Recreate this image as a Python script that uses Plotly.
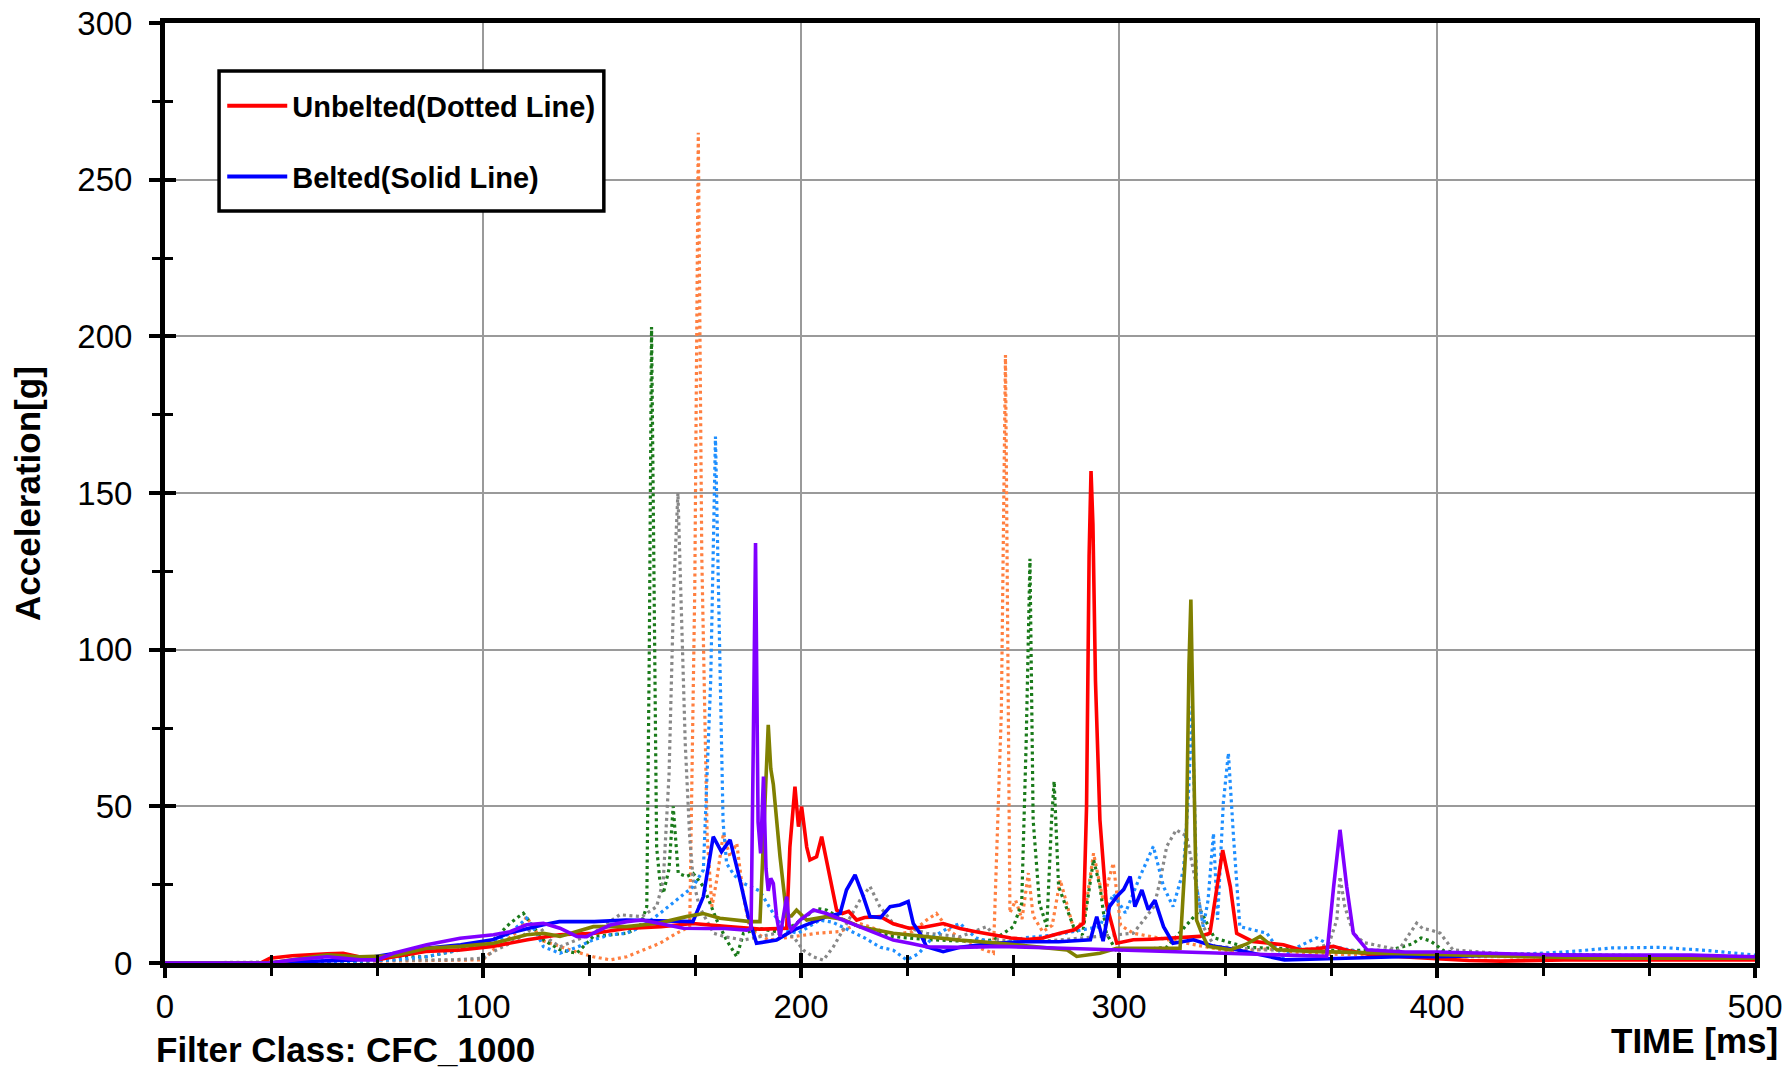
import plotly.graph_objects as go

# ---- acceleration traces (time in ms, acceleration in g) ----
# Belted runs: solid lines
red_t = [0, 30, 33, 40, 51, 56, 61, 66.6, 72, 82, 93, 103, 114, 124, 135, 145, 156, 166, 177, 187,
         195.5, 196.5, 198.1, 199.2, 200.2, 201.8, 202.8, 204.9, 206.5, 208, 209.6, 211.2, 213, 215,
         217.5, 220, 225, 229, 234, 239, 244.7, 250, 255, 260.5, 266, 271, 276, 281.4, 286, 288.8,
         289.8, 290.6, 291.2, 291.8, 292.6, 294, 296, 299.3, 304.5, 310, 315, 320, 325.5, 328.6,
         330.7, 332.6, 335, 337, 342, 351.7, 357, 362, 367.4, 372, 380, 388, 400, 410, 420, 440,
         460, 480, 500]
red_g = [0, 0, 1.5, 2.3, 2.9, 3.1, 2, 1, 2, 3.7, 4.2, 5.3, 7.4, 9, 9.5, 11, 11.6, 12.6, 11.6, 10.8,
         11.1, 37, 56.3, 43.5, 49.9, 37, 32.9, 33.9, 40.3, 32.9, 25.4, 16.9, 15.8, 16.5,
         13.7, 14.5, 14.8, 12.5, 11.1, 11.5, 12.6, 11, 10, 9, 8, 7.5, 8, 9.5, 10.6, 12.7,
         50, 130, 157, 140, 90, 45.7, 19, 6.3, 7.4, 7.6, 7.9, 8.2, 8.5, 9.5,
         24.4, 36, 24.4, 9.5, 6.9, 5.8, 4.2, 4.5, 5.3, 4, 2.5, 2.1, 1.5, 0.8, 0.6, 1,
         1, 1, 1]

blue_t = [0, 30, 60, 72, 82, 93, 103, 108, 114, 119, 124, 135, 145, 156, 166, 169.3, 172.4, 175,
          177.7, 180.8, 183.4, 186, 192.3, 197.6, 202.8, 208, 212.3, 214.3, 217, 219.6, 221.7, 225,
          228, 231.1, 233.7, 235.3, 237.4, 239.5, 244.7, 250, 260.5, 270, 281, 288, 291, 293, 295,
          297, 299.3, 301.5, 303.5, 305, 307.2, 309.2, 311.3, 314, 317, 323.4, 330, 337, 345, 352,
          360, 368, 380, 388, 400, 420, 440, 460, 480, 500]
blue_g = [0, 0, 1, 3.1, 4.7, 5.8, 7.4, 9.5, 11.1, 12.2, 13.2, 13.2, 13.7, 13.5, 13.2, 21.2, 40.3, 35.5,
          39.3, 26.5, 14.8, 6.3, 7.3, 10.5, 12.6, 14.8, 15.8, 23.3, 28.1, 21.2, 14.8, 14.5,
          18, 18.5, 19.6, 12.6, 9.5, 5.2, 3.6, 5, 6.3, 6.8, 6.8, 7.2, 7.4, 14.8, 7,
          18, 21.2, 23.5, 27.6, 18, 23.3, 17, 20, 11.6, 6.3, 7.4, 5.3, 4.2, 2.5, 1,
          1.2, 1.5, 1.8, 2, 2, 2.5, 2.5, 2.2, 2, 1.5]

purple_t = [0, 33, 40.4, 51, 61.3, 66.6, 71.8, 82.3, 92.8, 103.3, 108.5, 113.7, 119, 124.2, 129.5,
            132.6, 134.7, 140, 145.2, 150, 155.6, 163, 170, 176, 182.9, 184.3, 185, 185.7, 186.5,
            187.3, 188.2, 189, 189.7, 190.5, 191.3, 192.3, 193.4, 194.5, 195.5, 196.3, 197,
            199.7, 203.9, 208, 213.3, 218.5, 224, 229, 234.3, 239.5, 250, 262.6, 280, 299, 320,
            340, 357, 365.3, 367.5, 369.5, 371.6, 373.7, 378, 390, 400, 420, 440, 460, 480, 500]
purple_g = [0, 0, 1, 2, 1, 1, 3.1, 5.8, 7.9, 9, 10, 12.2, 12.7, 11.1, 8.5,
            8.4, 9.5, 12.1, 13.2, 13.7, 12.6, 11.1, 11, 11, 10.5, 11, 70, 134, 45,
            35, 59.5, 30, 23, 27, 25.4, 15, 8.4, 15, 21.2, 12, 10.6,
            13.7, 16.9, 15.8, 13.7, 11.6, 9.5, 7.3, 6.3, 5.2, 5, 5.3, 4.8, 4.2, 3.5,
            3, 2.6, 2.1, 24.4, 42.5, 24.4, 9.5, 4.2, 3.5, 3.5, 3, 2.5, 2.5, 2.5, 2]

olive_t = [0, 33, 51, 61, 72, 82.3, 92.8, 103.3, 113.7, 119, 124.2, 134.7, 145.2, 155, 164, 169.3,
           174.5, 179.8, 184, 187.1, 188.3, 189.7, 190.5, 191.3, 193.4, 195.5, 197, 198.6, 201.8,
           208, 213, 218.5, 229, 239.5, 250, 262.6, 273, 283.6, 286.7, 294, 299.3, 310, 319.2,
           321.2, 322, 322.6, 323.3, 324.4, 326, 328, 335, 340, 344.4, 349.6, 360, 380, 400, 420,
           450, 480, 500]
olive_g = [0, 0, 2.6, 2, 2.3, 4.7, 5.3, 6.3, 9, 9.5, 8.5, 11.6, 11.6, 12.7, 14.8, 15.8,
           14.3, 13.7, 13.2, 13.2, 45, 76, 62, 57, 34, 15, 15, 16.9, 13.7,
           14.8, 14, 11.6, 9.5, 8.4, 7.3, 6.3, 5.3, 4.2, 2.1, 3.1, 4.7, 4.7, 4.7,
           40, 95, 116, 80, 13.7, 9.5, 5.3, 4.2, 6, 8.5, 4.2, 3.7, 3.2, 2.5, 2,
           1.5, 1.5, 1.5]

# Unbelted runs: dotted lines
orange_t = [0, 33, 60, 80, 100, 103.3, 108, 111.6, 113.7, 116, 119, 124.2, 129.5, 134.7, 140, 145.2,
            150.4, 155.6, 160.9, 165, 166.6, 167.7, 168.8, 170.5, 172, 173.5, 175.6, 177.7, 179.8,
            181.9, 184, 190, 197.6, 205, 212, 218.5, 229, 235, 239.5, 242.6, 247, 253, 260.5,
            263, 264.3, 265.7, 267.5, 269.5, 271.5, 273, 276, 279, 281.5, 283.6, 286, 289, 292,
            295, 298.2, 300.5, 304.5, 315, 325.5, 336, 346.5, 360, 380, 400, 420, 450, 480, 500]
orange_g = [0, 0, 0.5, 0.8, 1, 4.2, 8, 10.6, 14.8, 11, 7, 5.2, 3.5, 2, 1, 2,
            4.2, 6.3, 9.5, 11.6, 120, 265, 130, 40, 18, 26.5, 41.4, 33.9, 38.2,
            21.2, 10.5, 7.3, 8.4, 9.5, 10, 12.6, 9, 10, 13.7, 15.8, 10, 6, 3.1,
            80, 194, 16, 20, 14, 28.7, 15, 10, 12, 26.5, 19, 10, 14, 35,
            20, 31.9, 12, 9.5, 7.5, 5.5, 3.5, 4.5, 3, 2.5, 2, 2, 1.8, 1.5, 1.5]

green_t = [0, 60, 71.8, 82.3, 92.8, 103.3, 108.5, 112.7, 115.8, 119, 124.2, 129.5, 132.6, 134.7,
           140, 145.2, 149.4, 151.5, 152.3, 153, 153.8, 154.6, 155.6, 156.7, 158.5, 159.8, 161.4,
           164, 166.1, 169.3, 173.5, 176.6, 179.8, 181.9, 187, 192.3, 197.6, 205, 208, 213, 218.5,
           229, 239.5, 250, 260.5, 266.8, 269.4, 270.8, 272, 273, 275, 277.3, 278.8, 279.6, 281,
           283, 285.7, 288.5, 292, 294, 296, 299, 305, 315, 325.5, 330, 340, 355, 370, 385, 392,
           395, 398, 402, 410, 430, 460, 500]
green_g = [0, 0, 2, 2, 4.2, 7.4, 12.7, 15.9, 11.6, 7.4, 4.2, 3.1, 6.3, 8.5,
           9, 9.5, 11.6, 18, 100, 203, 120, 37, 26.5, 22.2, 30, 50, 28.6,
           27.6, 28.6, 24.4, 13.7, 7.3, 2, 9.5, 11, 10, 12, 17.4, 16.9, 14, 11.6,
           8.4, 7.5, 7, 7.3, 11.6, 19, 70, 129, 45.7, 19, 11.6, 45.7, 58, 24.4,
           19, 11.6, 9, 33, 24.4, 9.5, 4.2, 4, 5, 17, 8, 5, 4.5, 4, 4, 6,
           8, 7, 4, 2.5, 2, 1.5, 1.2]

gray_t = [0, 33, 60, 90, 100, 103.3, 108.5, 113.7, 116.9, 121, 124.2, 129.5, 134.7, 143, 150, 154.6,
          156.7, 158.5, 160, 161.3, 162.5, 163.6, 165, 166.1, 168, 170.3, 172.5, 176, 181.9, 187,
          192.3, 197.6, 200.7, 203.9, 207, 210.2, 214.3, 218.5, 221.7, 224.8, 229, 239.5, 250,
          258.4, 262, 270, 281, 294, 304.5, 308, 311, 313, 315, 318, 321.3, 324.4, 326.5, 330,
          345, 360, 366, 368.5, 369.5, 371, 373.7, 377, 388, 391.5, 393.6, 395.5, 397.8, 401,
          405, 420, 450, 480, 500]
gray_g = [0, 0.3, 0.8, 1, 1.5, 3.7, 6.3, 9.5, 12.7, 7.4, 5.2, 7.4, 9.5, 15.4, 14.8, 18,
          26.5, 60, 120, 150, 110, 70, 40, 26.5, 18, 13.7, 9.5, 8.4, 7.3, 8.4,
          9.5, 8.4, 4.1, 2, 0.9, 5.2, 12.6, 20, 24.4, 18, 12.6, 9.5, 8.4,
          11.6, 7.3, 6.8, 7.3, 8.5, 9.5, 14, 18, 26.5, 37.2, 42.5, 40.4, 24.4, 11.6, 5.3,
          4.2, 4.2, 6, 13.8, 27.6, 18, 9.5, 6.5, 4.2, 9.5, 12.7, 11, 10.6, 9.5,
          4.2, 3, 2.5, 2.2, 2]

sky_t = [0, 33, 60, 72, 82, 92.8, 103.3, 108.5, 113.7, 116.9, 119, 124.2, 129.5, 134.7, 140, 145.2,
         150, 155.6, 160.9, 166.1, 169.3, 171.6, 173.1, 174.4, 175.5, 176.6, 179, 181.9, 184, 187,
         191.3, 195, 199, 206, 210, 215, 220, 225, 229, 233.2, 237, 241.6, 246, 250, 255, 262.6,
         270, 280, 294, 298.2, 302, 306.6, 310.8, 314, 317, 320.3, 321.9, 323, 324.4, 326.5, 328,
         329.7, 331, 332.8, 334.4, 336, 338, 346.5, 351.7, 356, 362, 367.4, 378, 390, 400, 420,
         440, 455, 470, 485, 500]
sky_g = [0, 0, 0.5, 1, 2, 4.2, 6.3, 9.5, 14.3, 9.5, 5.2, 3.1, 5, 7.4, 9, 9.5,
         11.6, 15.8, 20.1, 24.4, 29.7, 90, 168, 100, 45, 31.8, 28, 25.4, 24.4, 23,
         15.8, 10.5, 9.5, 13.7, 13, 10.5, 8, 5, 4.1, 1, 3, 8.4, 11, 12.6, 8, 6,
         8, 9, 11.6, 22, 16, 27.6, 37.2, 24.4, 18, 29.7, 55, 82, 24.4, 11.6, 20,
         41.4, 13.8, 51, 67, 40.4, 11.6, 9.5, 2, 5, 8, 5.3, 3, 2.5, 2.5, 2.5,
         3.5, 4.8, 5, 4, 2.5]

# axis ticks
x_ticks = [0, 100, 200, 300, 400, 500]
y_ticks = [0, 50, 100, 150, 200, 250, 300]

FONT = "Liberation Sans, Arial, sans-serif"
DOT = "3px,3.5px"

fig = go.Figure()

dotted = [
    (orange_t, orange_g, "#FF7F40"),
    (green_t, green_g, "#1A7A1A"),
    (gray_t, gray_g, "#888888"),
    (sky_t, sky_g, "#1E8FFF"),
]
for t, g, c in dotted:
    fig.add_trace(go.Scatter(x=t, y=g, mode="lines", showlegend=False, hoverinfo="skip",
                             line=dict(color=c, width=3.2, dash=DOT)))

solid = [
    (red_t, red_g, "#FF0000"),
    (blue_t, blue_g, "#0000FF"),
    (olive_t, olive_g, "#808000"),
    (purple_t, purple_g, "#8000FF"),
]
for t, g, c in solid:
    fig.add_trace(go.Scatter(x=t, y=g, mode="lines", showlegend=False, hoverinfo="skip",
                             line=dict(color=c, width=3.6)))

# legend entries
fig.add_trace(go.Scatter(x=[None], y=[None], mode="lines", name="Unbelted(Dotted Line)",
                         legendgroup="u", line=dict(color="#FF0000", width=4)))
fig.add_trace(go.Scatter(x=[None], y=[None], mode="lines", name="Belted(Solid Line)",
                         legendgroup="b", line=dict(color="#0000FF", width=4)))

# companion axes carrying the inner half of the tick marks
fig.add_trace(go.Scatter(x=[], y=[], xaxis="x2", yaxis="y2", showlegend=False, hoverinfo="skip"))

fig.update_layout(
    width=1787, height=1069,
    margin=dict(l=165, r=32, t=23, b=106, autoexpand=False),
    paper_bgcolor="white", plot_bgcolor="white",
    font=dict(family=FONT, size=33, color="black"),
    xaxis=dict(range=[0, 500], tickvals=x_ticks, ticks="outside", ticklen=10, tickwidth=4,
               tickcolor="black", ticklabelstandoff=0, automargin=False,
               minor=dict(dtick=100 / 3, tick0=0, ticks="outside", ticklen=8, tickwidth=3,
                          tickcolor="black", showgrid=False),
               showline=True, linewidth=5, linecolor="black", mirror=True,
               showgrid=True, gridcolor="#9A9A9A", gridwidth=1.5, zeroline=False,
               tickfont=dict(size=33)),
    yaxis=dict(range=[0, 300], tickvals=y_ticks, ticks="outside", ticklen=11, tickwidth=4,
               tickcolor="black", ticklabelstandoff=10, automargin=False,
               minor=dict(dtick=25, tick0=0, ticks="outside", ticklen=8, tickwidth=3,
                          tickcolor="black", showgrid=False),
               showline=True, linewidth=5, linecolor="black", mirror=True,
               showgrid=True, gridcolor="#9A9A9A", gridwidth=1.5, zeroline=False,
               tickfont=dict(size=33)),
    xaxis2=dict(range=[0, 500], overlaying="x", anchor="y2", side="bottom", automargin=False,
                tickvals=x_ticks, ticks="inside", ticklen=10, tickwidth=4, tickcolor="black",
                minor=dict(dtick=100 / 3, tick0=0, ticks="inside", ticklen=8, tickwidth=3,
                           tickcolor="black", showgrid=False),
                showticklabels=False, showgrid=False, showline=False, zeroline=False),
    yaxis2=dict(range=[0, 300], overlaying="y", anchor="x2", side="left", automargin=False,
                tickvals=y_ticks, ticks="inside", ticklen=11, tickwidth=4, tickcolor="black",
                minor=dict(dtick=25, tick0=0, ticks="inside", ticklen=8, tickwidth=3,
                           tickcolor="black", showgrid=False),
                showticklabels=False, showgrid=False, showline=False, zeroline=False),
    legend=dict(x=0.036, y=0.939, xanchor="left", yanchor="top",
                bgcolor="rgba(0,0,0,0)", borderwidth=0,
                font=dict(family=FONT, size=29, color="black", weight="bold"),
                tracegroupgap=30, itemwidth=60),
    shapes=[
        # legend frame
        dict(type="rect", xref="paper", yref="paper", x0=0.034, x1=0.276, y0=0.80, y1=0.949,
             line=dict(color="black", width=3.5), fillcolor="white", layer="above"),
    ],
    annotations=[
        dict(text="<b>Acceleration[g]</b>", xref="paper", yref="paper", x=-0.0868, y=0.5,
             xanchor="center", yanchor="middle", textangle=-90, showarrow=False,
             font=dict(family=FONT, size=35, color="black")),
        dict(text="<b>Filter Class: CFC_1000</b>", xref="paper", yref="paper", x=-0.007,
             y=-0.0915, xanchor="left", yanchor="middle", showarrow=False,
             font=dict(family=FONT, size=35, color="black")),
        dict(text="<b>TIME [ms]</b>", xref="paper", yref="paper", x=1.0157, y=-0.082,
             xanchor="right", yanchor="middle", showarrow=False,
             font=dict(family=FONT, size=35, color="black")),
    ],
)

fig.write_html("out.html")
